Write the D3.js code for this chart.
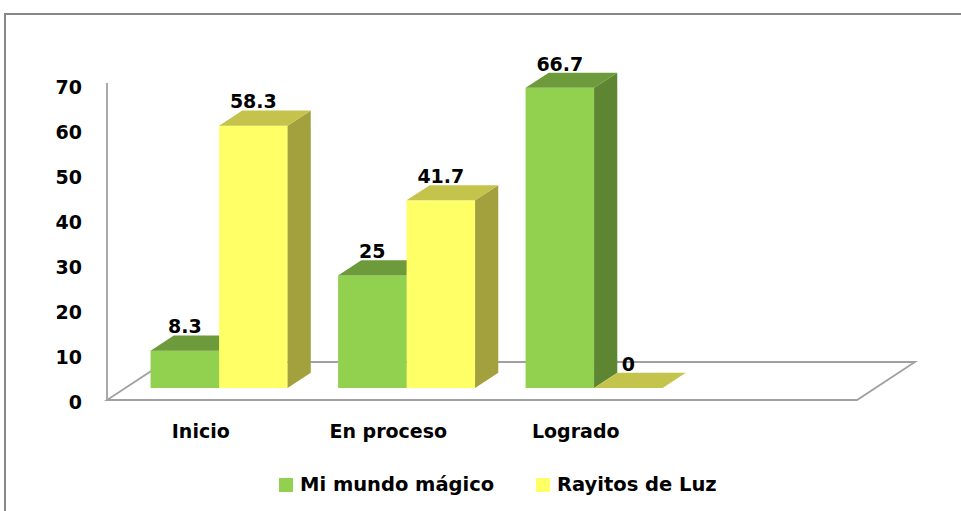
<!DOCTYPE html>
<html>
<head>
<meta charset="utf-8">
<script src="https://cdn.jsdelivr.net/npm/d3@7"></script>
<style>
  body { margin: 0; background: #fff; }
  text { font-family: "DejaVu Sans", Verdana, sans-serif; font-weight: bold; fill: #000; }
</style>
</head>
<body>
<div id="chart"></div>
<script>
// data
var categories = ["Inicio", "En proceso", "Logrado"];
var series = ["Mi mundo mágico", "Rayitos de Luz"];
var miMundo = [8.3, 25, 66.7];
var rayitos = [58.3, 41.7, 0];
var yTicks = [0, 10, 20, 30, 40, 50, 60, 70];

var width = 961, height = 511;
var colors = {
  "Mi mundo mágico": { front: "#92d050", top: "#6d9a3b", side: "#5e8632" },
  "Rayitos de Luz": { front: "#ffff66", top: "#c4c34c", side: "#a3a13e" }
};

var svg = d3.select("#chart").append("svg")
    .attr("width", width)
    .attr("height", height);

// outer frame
svg.append("rect")
    .attr("x", 5).attr("y", 14)
    .attr("width", 980).attr("height", 520)
    .attr("fill", "none")
    .attr("stroke", "#878787")
    .attr("stroke-width", 2);

// floor depth vector
var depth = { dx: 58, dy: -38 };
var barT0 = 0.316, barT1 = 0.716;

// an empty 4th slot is left on the floor, like the original
var x = d3.scaleBand()
    .domain(categories.concat(["_"]))
    .range([107, 857])
    .paddingInner(0).paddingOuter(0);

var xs = d3.scaleBand()
    .domain(series)
    .range([0, x.bandwidth()])
    .paddingInner(0).paddingOuter(0.3686);

var y = d3.scaleLinear().domain([0, 70]).range([400, 85]);

var gray = "#a0a0a0";
var x0 = x.range()[0], x1 = x.range()[1], y0 = y(0);

// floor
var floor = svg.append("g").attr("stroke", gray).attr("stroke-width", 1.8).attr("fill", "none");
floor.append("path")
    .attr("d", "M" + x0 + "," + y0 + "L" + x1 + "," + y0 +
      "L" + (x1 + depth.dx) + "," + (y0 + depth.dy) +
      "L" + (x0 + depth.dx) + "," + (y0 + depth.dy) + "Z");
floor.append("line")
    .attr("x1", x0).attr("x2", x0)
    .attr("y1", y0).attr("y2", y(70) - 2);

// y axis labels
var yAxis = d3.axisLeft(y).tickValues(yTicks).tickSize(0).tickPadding(0);
var ya = svg.append("g").attr("transform", "translate(82,2)").call(yAxis);
ya.select(".domain").remove();
ya.selectAll("text")
    .style("font-family", "DejaVu Sans, Verdana, sans-serif")
    .style("font-weight", "bold")
    .style("font-size", "19px")
    .attr("fill", "#000");

// bars
var rows = [];
categories.forEach(function (c, i) {
  rows.push({ cat: c, s: series[0], v: miMundo[i] });
  rows.push({ cat: c, s: series[1], v: rayitos[i] });
});

var ox = depth.dx * barT0, oy = depth.dy * barT0;
var sx = depth.dx * (barT1 - barT0), sy = depth.dy * (barT1 - barT0);

var bars = svg.append("g").selectAll("g").data(rows).enter().append("g");

bars.each(function (d) {
  var g = d3.select(this);
  var bx = x(d.cat) + xs(d.s) + ox;
  var w = xs.bandwidth();
  var yb = y(0) + oy, yt = y(d.v) + oy;
  var col = colors[d.s];
  if (d.v > 0) {
    g.append("rect")
        .attr("x", bx).attr("y", yt)
        .attr("width", w).attr("height", yb - yt)
        .attr("fill", col.front);
    g.append("path")
        .attr("d", "M" + (bx + w) + "," + yt + "l" + sx + "," + sy +
          "L" + (bx + w + sx) + "," + (yb + sy) + "L" + (bx + w) + "," + yb + "Z")
        .attr("fill", col.side);
  }
  g.append("path")
      .attr("d", "M" + bx + "," + yt + "L" + (bx + w) + "," + yt +
        "l" + sx + "," + sy + "L" + (bx + sx) + "," + (yt + sy) + "Z")
      .attr("fill", col.top);
  g.append("text")
      .attr("x", bx + w / 2)
      .attr("y", yt + sy - 2)
      .attr("text-anchor", "middle")
      .style("font-size", "19px")
      .text(d.v);
});

// category labels
svg.append("g").selectAll("text").data(categories).enter().append("text")
    .attr("x", function (d) { return x(d) + x.bandwidth() / 2; })
    .attr("y", 438)
    .attr("text-anchor", "middle")
    .style("font-size", "19px")
    .text(function (d) { return d; });

// legend
var legendX = [279, 536];
var leg = svg.append("g").selectAll("g").data(series).enter().append("g")
    .attr("transform", function (d, i) { return "translate(" + legendX[i] + ",478)"; });
leg.append("rect")
    .attr("width", 14).attr("height", 14)
    .attr("fill", function (d) { return colors[d].front; });
leg.append("text")
    .attr("x", 21).attr("y", 13)
    .style("font-size", "19.5px")
    .text(function (d) { return d; });
</script>
</body>
</html>
